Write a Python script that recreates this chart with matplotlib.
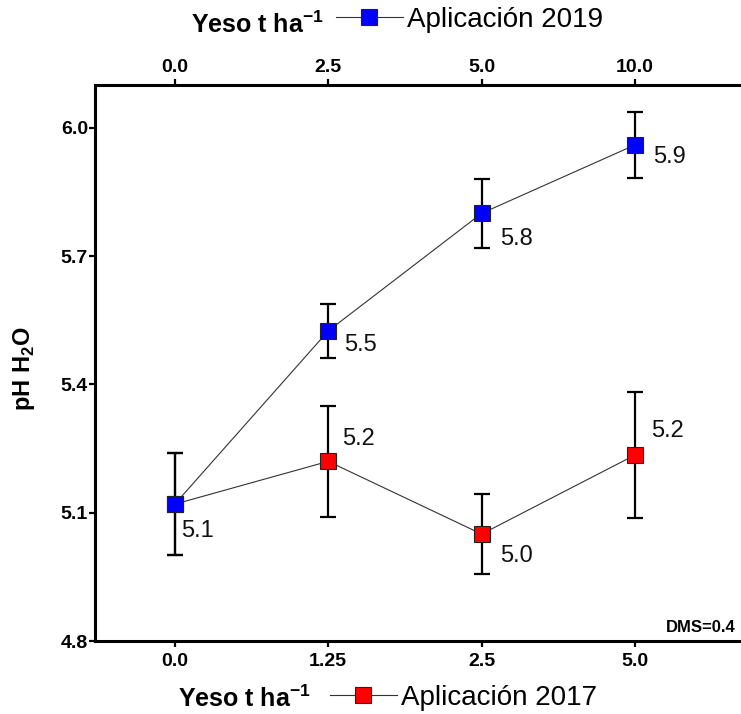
import math
import matplotlib
matplotlib.use("Agg")
import matplotlib.pyplot as plt

plt.rcParams['font.family'] = ['Liberation Sans', 'DejaVu Sans']
plt.rcParams['mathtext.fontset'] = 'custom'
plt.rcParams['mathtext.rm'] = 'Liberation Sans'
plt.rcParams['mathtext.bf'] = 'Liberation Sans:bold'

# gypsum doses (bottom axis: 2017 application, top axis: 2019 application)
dose_2017 = ['0.0', '1.25', '2.5', '5.0']
dose_2019 = ['0.0', '2.5', '5.0', '10.0']

ph_2019 = [5.12, 5.525, 5.80, 5.96]
err_2019 = [0.12, 0.063, 0.08, 0.077]
ph_2017 = [5.12, 5.22, 5.05, 5.235]
err_2017 = [0.12, 0.13, 0.094, 0.147]

y_ticks = [4.8, 5.1, 5.4, 5.7, 6.0]
dms_text = 'DMS=0.4'

W, H = 741, 714
fig = plt.figure(figsize=(W / 100, H / 100), dpi=100)
ax = fig.add_axes([95 / W, 1 - 641 / H, (W - 95) / W, (641 - 85) / H])

pos = list(range(len(dose_2017)))

# error bars
ax.errorbar(pos, ph_2017, yerr=err_2017, fmt='none', ecolor='black',
            elinewidth=1.6, capsize=6, capthick=1.6, zorder=2)
ax.errorbar(pos, ph_2019, yerr=err_2019, fmt='none', ecolor='black',
            elinewidth=1.6, capsize=6, capthick=1.6, zorder=2)

# series lines with square markers
l2017, = ax.plot(pos, ph_2017, color='#333333', lw=0.8, marker='s', ms=11.5,
                 mfc='#ff0000', mec='#222222', mew=0.8, zorder=3)
l2019, = ax.plot(pos, ph_2019, color='#333333', lw=0.8, marker='s', ms=11.5,
                 mfc='#0000ff', mec='#222222', mew=0.8, zorder=4)


def short(v):
    return f"{math.floor(v * 10 + 1e-6) / 10:.1f}"


# value labels (pixel offsets from each marker)
offs_2019 = [(6, -27), (16, -14), (18, -26), (18, -12)]
offs_2017 = [None, (14, 22), (18, -22), (16, 24)]
for x, v, o in zip(pos, ph_2019, offs_2019):
    ax.annotate(short(v), (x, v), xytext=o, textcoords='offset pixels',
                fontsize=17, ha='left', va='center', color='#111111')
for x, v, o in zip(pos, ph_2017, offs_2017):
    if o is None:
        continue
    ax.annotate(short(v), (x, v), xytext=o, textcoords='offset pixels',
                fontsize=17, ha='left', va='center', color='#111111')

ax.set_xlim(-0.52, 3.69)
ax.set_ylim(4.8, 6.1)
ax.set_xticks(pos)
ax.set_xticklabels(dose_2017)
ax.set_yticks(y_ticks)
ax.set_yticklabels([f"{t:.1f}" for t in y_ticks])
ax.tick_params(axis='both', direction='out', length=4.5, width=1.6,
               labelsize=14)
ax.tick_params(axis='x', pad=4)
ax.tick_params(axis='y', pad=0.5)
for lab in ax.get_xticklabels() + ax.get_yticklabels():
    lab.set_fontweight('bold')

for s in ['left', 'bottom', 'top']:
    ax.spines[s].set_linewidth(2.2)
ax.spines['right'].set_visible(False)

ax.set_ylabel(r'pH H$_{\mathbf{2}}$O', fontsize=17, fontweight='bold')
ax.yaxis.set_label_coords(-0.09, 0.49)

ax.text(0.991, 0.016, dms_text, transform=ax.transAxes, ha='right',
        va='baseline', fontsize=12, fontweight='bold')

# top axis for the 2019 doses
top = ax.twiny()
top.set_xlim(ax.get_xlim())
top.set_xticks(pos)
top.set_xticklabels(dose_2019)
top.tick_params(axis='x', direction='out', length=4.5, width=1.6,
                labelsize=14, pad=2)
for lab in top.get_xticklabels():
    lab.set_fontweight('bold')
for s in ['left', 'right', 'bottom', 'top']:
    top.spines[s].set_visible(False)

# axis titles with legend keys
fig.text(191 / W, 1 - 33 / H, r'Yeso t ha$^{\mathbf{-1}}$', fontsize=18,
         fontweight='bold', ha='left', va='baseline')
fig.text(178 / W, 1 - 707 / H, r'Yeso t ha$^{\mathbf{-1}}$', fontsize=18,
         fontweight='bold', ha='left', va='baseline')
fig.legend([l2019], ['Aplicación 2019'], loc='center left',
           bbox_to_anchor=(336 / W, 1 - 20 / H), frameon=False, fontsize=20,
           handlelength=2.4, handletextpad=0.15, borderpad=0, borderaxespad=0,
           numpoints=1)
fig.legend([l2017], ['Aplicación 2017'], loc='center left',
           bbox_to_anchor=(330 / W, 1 - 698 / H), frameon=False, fontsize=20,
           handlelength=2.4, handletextpad=0.15, borderpad=0, borderaxespad=0,
           numpoints=1)

fig.savefig('out.png', dpi=100)
